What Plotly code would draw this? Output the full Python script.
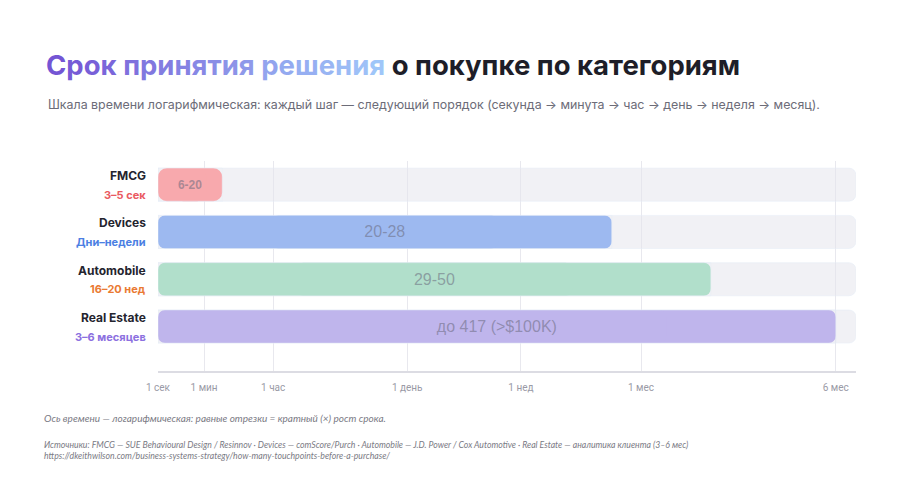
import plotly.graph_objects as go

# ---- data ----
categories = ["FMCG", "Devices", "Automobile", "Real Estate"]
durations = ["3–5 сек", "Дни–недели", "16–20 нед", "3–6 месяцев"]
bar_labels = ["6-20", "20-28", "29-50", "до 417 (>$100K)"]
# position on the (log) time scale, in % of the axis length
scale_values = [9.2, 65.0, 79.2, 97.1]
track_max = 100

tick_labels = ["1 сек", "1 мин", "1 час", "1 день", "1 нед", "1 мес", "6 мес"]
tick_positions = [0, 6.6, 16.5, 35.7, 52.0, 69.2, 97.1]

# ---- styles ----
bar_colors = ["#f8a9ad", "#9db9f0", "#b1dfcb", "#bfb5ec"]
duration_colors = ["#ea5a62", "#4b7fe3", "#ea7a33", "#8c70e0"]
FONT = "Inter"

# page body has an 8px margin, so the figure is a bit smaller and shifted
OFF = 8
W, H = 900 - 2 * OFF, 503 - 2 * OFF
L, R, T, B = 158 - OFF, 44 - OFF, 161 - OFF, 132 - OFF  # plot area in pixels


def px_x(p):
    return (p - OFF - L) / (W - L - R)


def px_y(p):
    return (H - B - (p - OFF)) / (H - T - B)


def gradient_text(text, c0, c1):
    # colour each character between two hex colours (title styling)
    a = [int(c0[i:i + 2], 16) for i in (1, 3, 5)]
    b = [int(c1[i:i + 2], 16) for i in (1, 3, 5)]
    out = []
    n = max(len(text) - 1, 1)
    for k, ch in enumerate(text):
        t = k / n
        r, g, bl = (round(a[j] + (b[j] - a[j]) * t) for j in range(3))
        out.append(f"<span style='color:rgb({r},{g},{bl})'>{ch}</span>")
    return "".join(out)


fig = go.Figure()

# grey background tracks
fig.add_trace(go.Bar(
    y=categories,
    x=[track_max] * len(categories),
    orientation="h",
    width=0.7,
    marker=dict(color="rgba(228,228,236,0.5)", cornerradius=7),
    hoverinfo="skip",
    showlegend=False,
))

for i, cat in enumerate(categories):
    first = i == 0
    v = scale_values[i]
    rad = 9 if first else 7
    # two overlapping pieces so both ends of the bar get rounded corners
    for base, length in ((0.25 * v, 0.75 * v), (0.75 * v, -0.75 * v)):
        fig.add_trace(go.Bar(
            y=[cat],
            x=[length],
            base=[base],
            orientation="h",
            width=0.7,
            marker=dict(color=bar_colors[i], cornerradius=rad, line=dict(width=0)),
            hoverinfo="skip",
            showlegend=False,
        ))
    # label centred on the whole bar
    fig.add_trace(go.Bar(
        y=[cat],
        x=[v],
        orientation="h",
        width=0.7,
        marker=dict(color="rgba(0,0,0,0)"),
        text=[f"<b>{bar_labels[i]}</b>" if first else bar_labels[i]],
        textposition="inside",
        insidetextanchor="middle",
        textangle=0,
        textfont=dict(
            family="Liberation Sans",
            size=12 if first else 16,
            color="rgba(105,105,125,0.55)",
        ),
        showlegend=False,
    ))

    # category name + duration on the left
    fig.add_annotation(
        x=0, xref="paper", y=cat, yref="y",
        xanchor="right", yanchor="middle", xshift=-10, yshift=9,
        text=f"<b>{cat}</b>", showarrow=False,
        font=dict(family=FONT, size=12, color="#24242e"),
    )
    fig.add_annotation(
        x=0, xref="paper", y=cat, yref="y",
        xanchor="right", yanchor="middle", xshift=-10, yshift=-10,
        text=f"<b>{durations[i]}</b>", showarrow=False,
        font=dict(family=FONT, size=11, color=duration_colors[i]),
    )

title_text = (
    "<b>" + gradient_text("Срок принятия решения", "#7455d4", "#9fc6f9")
    + " <span style='color:#1e1e28'>о покупке по категориям</span></b>"
)

fig.update_layout(
    width=W, height=H,
    margin=dict(l=L, r=R, t=T, b=B),
    paper_bgcolor="white",
    plot_bgcolor="white",
    barmode="overlay",
    bargap=0.3,
    title=dict(
        text=title_text,
        xref="container", yref="container",
        x=(46 - OFF) / W, xanchor="left",
        y=1 - (65 - OFF) / H, yanchor="middle",
        font=dict(family=FONT, size=27.5, color="#1e1e28"),
    ),
    font=dict(family=FONT),
)

fig.update_xaxes(
    range=[0, track_max],
    tickvals=tick_positions,
    ticktext=tick_labels,
    tickfont=dict(family="Roboto", size=10, color="#9a9aa6"),
    ticklabelstandoff=6,
    showgrid=True,
    gridcolor="#e8e8ee",
    gridwidth=1,
    zeroline=False,
    showline=True,
    linecolor="#dcdce3",
    linewidth=1.5,
    fixedrange=True,
)
fig.update_yaxes(
    categoryorder="array",
    categoryarray=categories,
    range=[3.94, -0.5],
    showticklabels=False,
    showgrid=False,
    zeroline=False,
    fixedrange=True,
)

# subtitle
fig.add_annotation(
    x=px_x(46), xref="paper", y=px_y(104), yref="paper",
    xanchor="left", yanchor="middle", showarrow=False,
    text="Шкала времени логарифмическая: каждый шаг — следующий порядок "
         "(секунда → минута → час → день → неделя → месяц).",
    font=dict(family=FONT, size=12.4, color="#6c6c78"),
)

# footnotes
fig.add_annotation(
    x=px_x(42), xref="paper", y=px_y(418), yref="paper",
    xanchor="left", yanchor="middle", showarrow=False,
    text="<i>Ось времени — логарифмическая: равные отрезки = кратный (×) рост срока.</i>",
    font=dict(family="Lato", size=10, color="#7a7a84"),
)
fig.add_annotation(
    x=px_x(42), xref="paper", y=px_y(450), yref="paper",
    xanchor="left", yanchor="middle", showarrow=False, align="left",
    text="<i>Источники: FMCG — SUE Behavioural Design / Resinnov · Devices — comScore/Purch · "
         "Automobile — J.D. Power / Cox Automotive · Real Estate — аналитика клиента (3–6 мес)<br>"
         "https://dkeithwilson.com/business-systems-strategy/how-many-touchpoints-before-a-purchase/</i>",
    font=dict(family="Lato", size=8.7, color="#7a7a84"),
)

fig.write_html("out.html")
